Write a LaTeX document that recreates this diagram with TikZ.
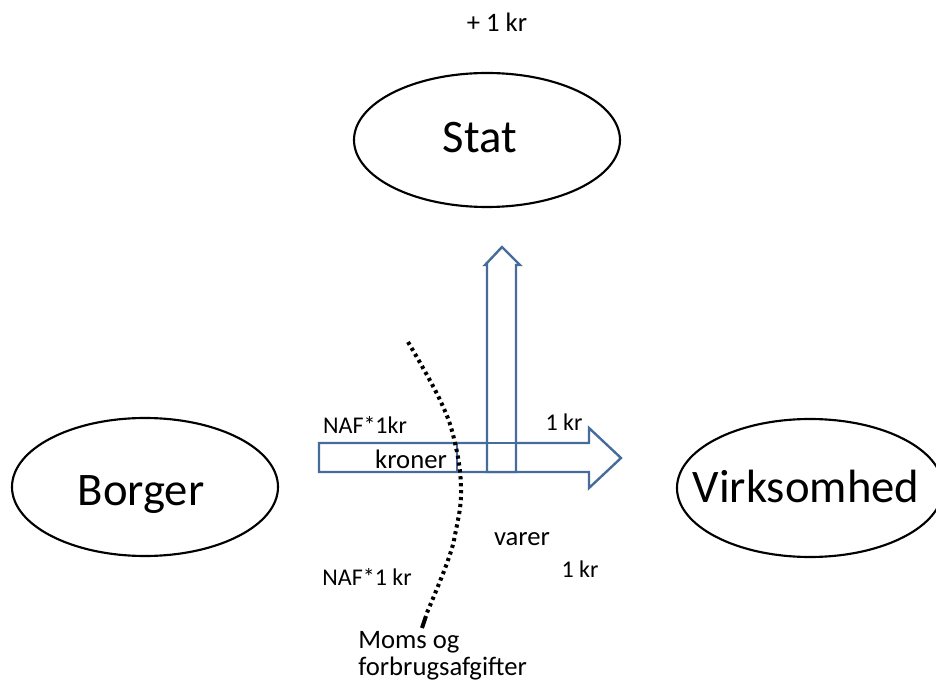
\documentclass[tikz,border=0pt]{standalone}
\usepackage{fontspec}
\setmainfont{Carlito}
\definecolor{flowblue}{RGB}{70,108,156}
\begin{document}
\begin{tikzpicture}[x=0.75pt,y=-0.75pt,
  ring/.style={black,line width=1.6pt},
  big/.style={inner sep=0pt,anchor=base,font=\fontsize{35}{40}\selectfont},
  flow/.style={draw=flowblue,line width=1.8pt,line join=miter},
  lbl/.style={inner sep=0pt,anchor=base},
  border/.style={black,line width=3pt,dash pattern=on 2.4pt off 2.8pt}]
\useasboundingbox (0,0) rectangle (936,684);

% the three actors: name plus an ellipse around it
\node[big] (stat) at (480,153) {Stat};
\node[big] (borger) at (141,505) {Borger};
\node[big] (virk) at (806,503) {Virksomhed};
\draw[ring] ([shift={(7,-13)}]stat.base) ellipse [x radius=133, y radius=67];
\draw[ring] ([shift={(4,-18)}]borger.base) ellipse [x radius=133, y radius=69];
\draw[ring] ([shift={(4,-15)}]virk.base) ellipse [x radius=133, y radius=69];

% money flow towards the firm
\draw[flow] (319,443) -- (589,443) -- (589,428) -- (621,458) -- (589,488) -- (589,472) -- (319,472) -- cycle;
% tax share going up to the state
\draw[flow,fill=white] (487,472) -- (487,265) -- (485,265) -- (502,247) -- (520,265) -- (516,265) -- (516,472) -- cycle;
\draw[flow] (457,443) rectangle (516,472);

% dotted tax border, ending in a short solid stroke
\draw[border] plot[smooth,tension=0.7] coordinates {(408,342) (440,400) (455,443) (461,490) (456,530) (447,563) (426,615)};
\draw[black,line width=3pt] (426,616) -- (422,628);

% labels
\node[lbl,font=\fontsize{20}{24}\selectfont] (plus) at (497,32) {+ 1 kr};
\node[lbl,font=\fontsize{18}{21}\selectfont] (naf1) at (365,433) {NAF*1kr};
\node[lbl,font=\fontsize{18}{21}\selectfont] (kr1) at (564,431) {1 kr};
\node[lbl,font=\fontsize{20}{24}\selectfont] (kroner) at (411,468) {kroner};
\node[lbl,font=\fontsize{20}{24}\selectfont] (varer) at (522,545) {varer};
\node[lbl,font=\fontsize{18}{21}\selectfont] (kr2) at (580,577) {1 kr};
\node[lbl,font=\fontsize{18}{21}\selectfont] (naf2) at (367,585) {NAF*1 kr};
\node[inner sep=0pt,anchor=base west,font=\fontsize{20}{24}\selectfont] (moms) at (358,648) {Moms og};
\node[inner sep=0pt,anchor=base west,font=\fontsize{20}{24}\selectfont] (afg) at (358,675) {forbrugsafgifter};
\end{tikzpicture}
\end{document}
